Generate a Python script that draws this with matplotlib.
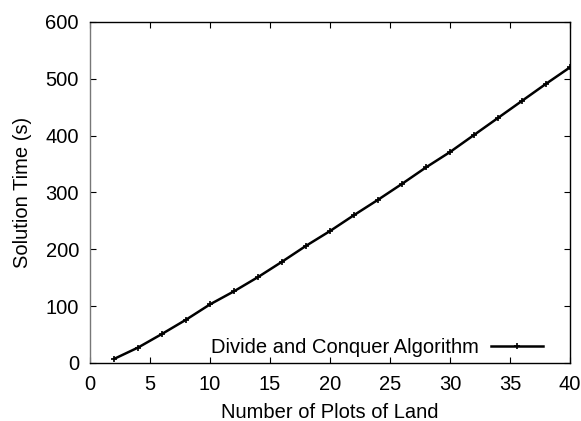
import matplotlib.pyplot as plt
import numpy as np

plt.rcParams['font.family'] = ['Liberation Sans', 'DejaVu Sans']

plots = np.arange(2, 41, 2)
times = [7, 27, 51, 76, 103, 126, 151, 178, 206, 232,
         260, 287, 315, 344, 371, 401, 431, 461, 491, 520]

fig = plt.figure(figsize=(5.81, 4.21), dpi=100)
ax = fig.add_axes([0.155, 0.138, 0.826, 0.810])

ax.plot(plots, times, color='black', lw=1.8, marker='+', ms=4, mew=1.2,
        label='Divide and Conquer Algorithm')

ax.set_xlim(0, 40)
ax.set_ylim(0, 600)
ax.set_xticks(np.arange(0, 41, 5))
ax.set_yticks(np.arange(0, 601, 100))
ax.tick_params(direction='in', top=True, right=True, length=4, width=0.8,
               labelsize=14.5, colors='black')
ax.tick_params(axis='x', pad=9)
ax.tick_params(axis='y', pad=8)
for s in ax.spines.values():
    s.set_linewidth(1.0)
ax.spines['left'].set_color('#777777')

ax.set_xlabel('Number of Plots of Land', fontsize=14.5, labelpad=6)
ax.set_ylabel('Solution Time (s)', fontsize=14.5, labelpad=10)

ax.legend(loc='lower right', bbox_to_anchor=(0.969, -0.018), frameon=False,
          markerfirst=False, fontsize=14.5, handlelength=2.6,
          borderaxespad=0.2, handletextpad=0.6)

fig.savefig('out.png', dpi=100)
